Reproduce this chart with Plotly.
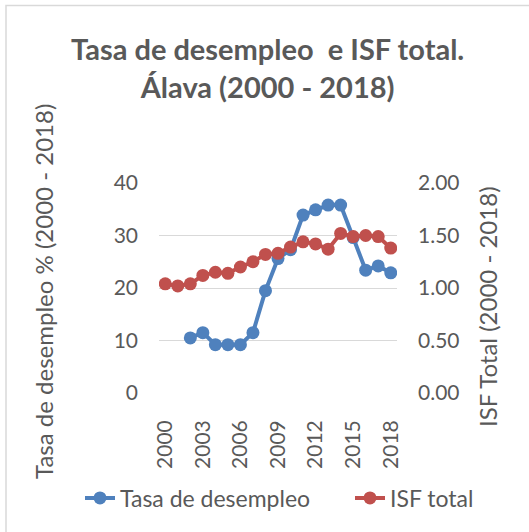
import plotly.graph_objects as go

years = list(range(2000, 2019))
tasa_desempleo = [None, None, 10.5, 11.5, 9.2, 9.2, 9.2, 11.5, 19.5, 25.6, 27.3,
                  33.9, 34.9, 35.8, 35.8, 29.6, 23.4, 24.2, 22.9]
isf_total = [1.04, 1.02, 1.04, 1.12, 1.15, 1.14, 1.20, 1.25, 1.32, 1.33, 1.39,
             1.44, 1.42, 1.37, 1.52, 1.49, 1.50, 1.49, 1.38]
x_ticks = [2000, 2003, 2006, 2009, 2012, 2015, 2018]

title_text = "Tasa de desempleo  e ISF total.<br>Álava (2000 - 2018)"
left_title = "Tasa de desempleo % (2000 - 2018)"
right_title = "ISF Total (2000 - 2018)"

BLUE = "#4F81BD"
RED = "#C0504D"
GREY = "#595959"
FONT = "Lato"

# plot area in pixels
W, H = 529, 532
L, R, T, B = 159, 397, 183, 393
pw, ph = R - L, B - T

def px(xp):
    return (xp - L) / pw

def py(yp):
    return (B - yp) / ph

fig = go.Figure()
fig.add_trace(go.Scatter(
    x=years, y=tasa_desempleo, name="Tasa de desempleo", mode="lines+markers",
    line=dict(color=BLUE, width=4), marker=dict(color=BLUE, size=13),
    connectgaps=False, yaxis="y", legend="legend"))
fig.add_trace(go.Scatter(
    x=years, y=isf_total, name="ISF total", mode="lines+markers",
    line=dict(color=RED, width=4), marker=dict(color=RED, size=13),
    yaxis="y2", legend="legend2"))

legend_common = dict(orientation="h", xanchor="left", xref="container",
                     yanchor="middle", y=py(498),
                     font=dict(size=23, color=GREY, family=FONT),
                     bgcolor="rgba(0,0,0,0)", borderwidth=0)

fig.update_layout(
    width=W, height=H,
    margin=dict(l=L, r=W - R, t=T, b=H - B, pad=0, autoexpand=False),
    paper_bgcolor="white", plot_bgcolor="white",
    font=dict(family=FONT, color=GREY, size=21),
    showlegend=True,
    legend=dict(x=80 / W, **legend_common),
    legend2=dict(x=350 / W, **legend_common),
    xaxis=dict(range=[1999.5, 2018.5], tickvals=x_ticks, tickangle=-90,
               showgrid=False, zeroline=False, showline=False,
               ticks="", ticklabelstandoff=22,
               tickfont=dict(size=21, color=GREY, family=FONT)),
    yaxis=dict(range=[0, 40], dtick=10, showgrid=True, gridcolor="#D9D9D9",
               gridwidth=1, zeroline=False, showline=False, ticks="",
               ticklabelstandoff=20,
               tickfont=dict(size=21, color=GREY, family=FONT)),
    yaxis2=dict(range=[0, 2], dtick=0.5, tickformat=".2f", overlaying="y",
                side="right", showgrid=False, zeroline=False, showline=False,
                ticks="", ticklabelstandoff=20,
                tickfont=dict(size=21, color=GREY, family=FONT)),
    annotations=[
        dict(text="<b>" + title_text + "</b>", xref="paper", yref="paper",
             x=px(267), y=py(68), xanchor="center", yanchor="middle",
             showarrow=False, font=dict(size=29, color=GREY, family=FONT)),
        dict(text=left_title, xref="paper", yref="paper", x=px(43), y=py(292),
             xanchor="center", yanchor="middle", textangle=-90, showarrow=False,
             font=dict(size=24, color=GREY, family=FONT)),
        dict(text=right_title, xref="paper", yref="paper", x=px(487), y=py(307),
             xanchor="center", yanchor="middle", textangle=-90, showarrow=False,
             font=dict(size=24, color=GREY, family=FONT)),
    ],
    shapes=[
        dict(type="rect", xref="paper", yref="paper", x0=px(6), y0=py(5.5),
             x1=px(545), y1=py(545), line=dict(color="#D9D9D9", width=1.5),
             fillcolor="rgba(0,0,0,0)", layer="below"),
    ],
)

fig.write_html("out.html",
               config={"displayModeBar": False},
               post_script="document.body.style.margin='0';document.body.style.overflow='hidden';")
